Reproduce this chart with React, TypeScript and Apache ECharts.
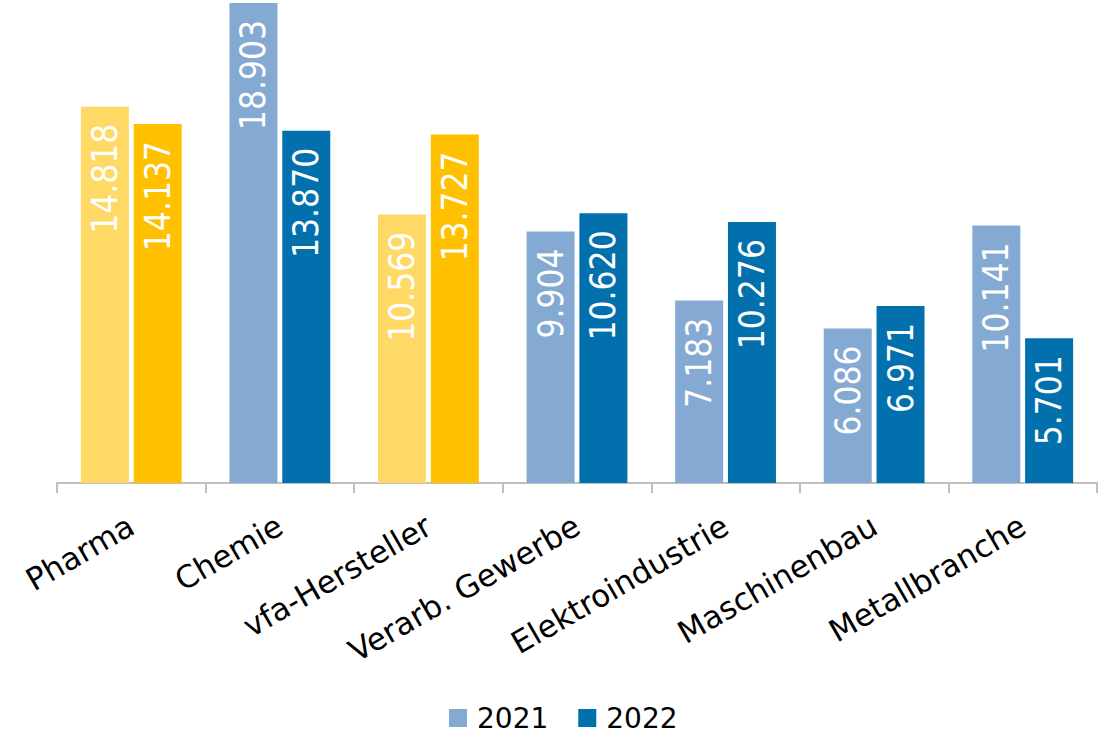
import React, { useEffect, useRef } from "react";
import * as echarts from "echarts";

const categories = [
  "Pharma",
  "Chemie",
  "vfa-Hersteller",
  "Verarb. Gewerbe",
  "Elektroindustrie",
  "Maschinenbau",
  "Metallbranche",
];
const values2021 = [14.818, 18.903, 10.569, 9.904, 7.183, 6.086, 10.141];
const values2022 = [14.137, 13.87, 13.727, 10.62, 10.276, 6.971, 5.701];
const highlighted = [0, 2];
const seriesNames = ["2021", "2022"];

const C2021 = "#84A9D3";
const C2022 = "#0270AC";
const Y2021 = "#FFD966";
const Y2022 = "#FFC000";

export default function App() {
  const ref = useRef<HTMLDivElement>(null);
  useEffect(() => {
    if (!ref.current) return;
    const chart = echarts.init(ref.current, null, { renderer: "svg" });
    const labelCfg = {
      show: true,
      position: "insideTop",
      distance: 17,
      rotate: 90,
      align: "right",
      verticalAlign: "middle",
      color: "#fff",
      fontSize: 35,
      fontFamily: "'DejaVu Sans Condensed', 'DejaVu Sans', sans-serif",
      formatter: (p: any) => Number(p.value).toFixed(3),
    };
    const mk = (vals: number[], hi: string) =>
      vals.map((v, i) =>
        highlighted.includes(i) ? { value: v, itemStyle: { color: hi } } : { value: v }
      );
    chart.setOption({
      animation: false,
      grid: { left: 57, right: 15, top: 0, bottom: 252, containLabel: false },
      legend: {
        data: seriesNames,
        icon: "rect",
        left: 449,
        top: 704,
        padding: 0,
        itemWidth: 18,
        itemHeight: 18,
        itemGap: 30,
        formatter: "{a|{name}}",
        textStyle: {
          fontSize: 28,
          lineHeight: 28,
          color: "#000",
          fontFamily: "'DejaVu Sans', sans-serif",
          rich: {
            a: {
              fontSize: 28,
              lineHeight: 28,
              color: "#000",
              fontFamily: "'DejaVu Sans', sans-serif",
              padding: [0, 0, 0, 5],
            },
          },
        },
      },
      xAxis: {
        type: "category",
        data: categories,
        axisLine: { lineStyle: { color: "#BFBFBF", width: 2 } },
        axisTick: { show: true, length: 10, lineStyle: { color: "#BFBFBF", width: 2 } },
        axisLabel: {
          rotate: 30,
          margin: 40,
          interval: 0,
          fontSize: 31,
          color: "#000",
          fontFamily: "'DejaVu Sans', sans-serif",
        },
      },
      yAxis: {
        type: "value",
        min: 0,
        max: 19.02,
        show: false,
        splitLine: { show: false },
      },
      series: [
        {
          name: seriesNames[0],
          type: "bar",
          color: C2021,
          barWidth: 48,
          barGap: "10%",
          data: mk(values2021, Y2021),
          label: labelCfg,
        },
        {
          name: seriesNames[1],
          type: "bar",
          color: C2022,
          barWidth: 48,
          barGap: "10%",
          data: mk(values2022, Y2022),
          label: labelCfg,
        },
      ],
    });
    return () => chart.dispose();
  }, []);
  return (
    <div
      ref={ref}
      style={{ position: "fixed", left: 0, top: 0, width: 1112, height: 735, background: "#fff" }}
    />
  );
}
